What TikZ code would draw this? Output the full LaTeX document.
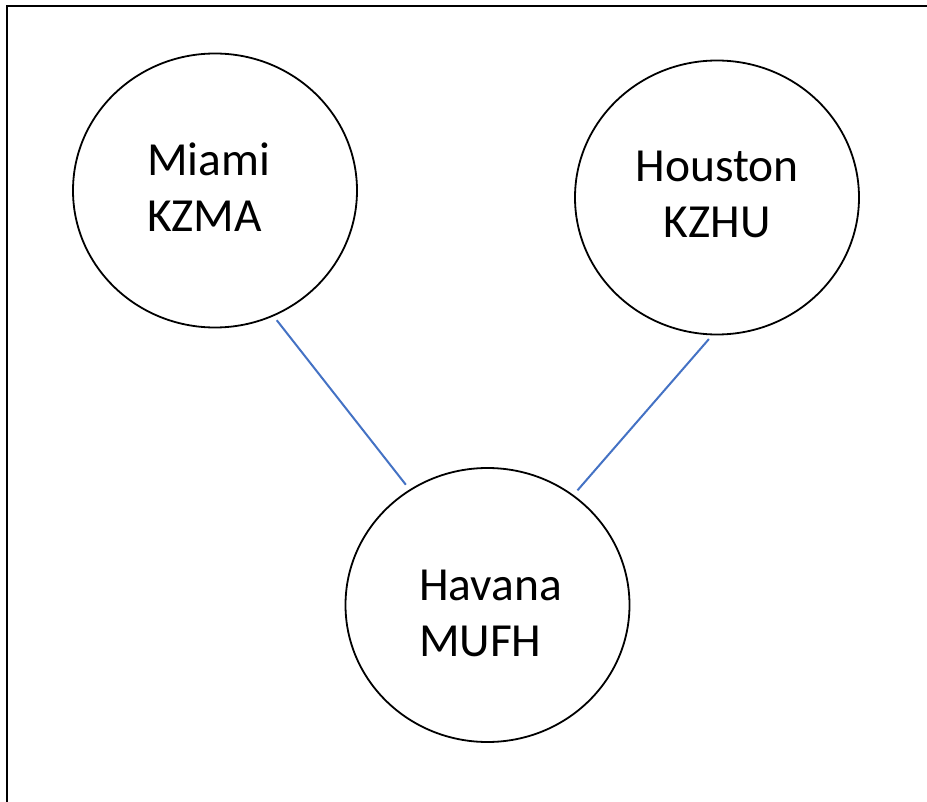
\documentclass[tikz,border=0pt]{standalone}
\usepackage{fontspec}
\setmainfont{Carlito}
\usetikzlibrary{shapes.geometric}
\definecolor{linkblue}{HTML}{4472C4}

\begin{document}
\begin{tikzpicture}[x=1pt,y=-1pt,
    airport/.style={ellipse,draw,line width=1.8pt,minimum width=284pt,
      minimum height=274pt,inner sep=0pt,text depth=56pt,
      font=\fontsize{47.5}{56}\selectfont},
    link/.style={draw=linkblue,line width=2pt,shorten <=5pt,shorten >=6pt}]
  \clip (0,0) rectangle (927,802);
  \draw[line width=2pt] (7,6) rectangle (960,840);
  % the three airports
  \node[airport,align=left,text width=136pt,text height=27pt] (miami) at (215,190.5) {Miami\\KZMA};
  \node[airport,align=center,text width=170pt,text height=25pt] (houston) at (717,197.5) {Houston\\KZHU};
  \node[airport,align=left,text width=137pt,text height=47pt] (havana) at (487.5,605) {Havana\\MUFH};
  % links
  \draw[link] (miami.-65) -- (havana.124);
  \draw[link] (houston.-92) -- (havana.52);
\end{tikzpicture}
\end{document}
